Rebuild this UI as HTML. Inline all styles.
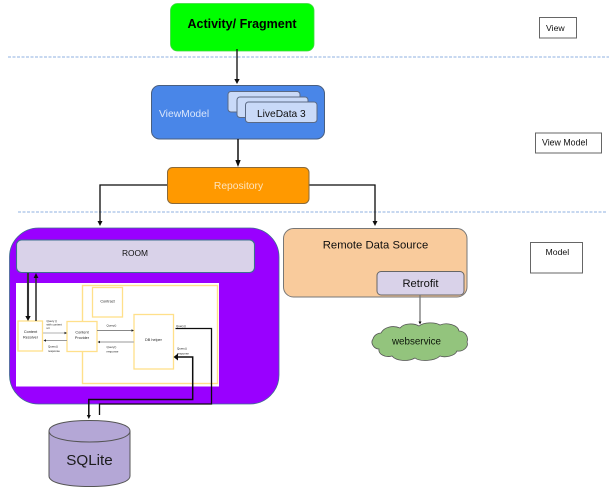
<!DOCTYPE html>
<html>
<head>
<meta charset="utf-8">
<style>
html,body{margin:0;padding:0;background:#fff;}
svg{display:block;}
text{font-family:"Liberation Sans",sans-serif;}
</style>
</head>
<body>
<svg width="609" height="488" viewBox="0 0 609 488" xmlns="http://www.w3.org/2000/svg">
<defs>
<filter id="b" x="-5%" y="-5%" width="110%" height="110%"><feGaussianBlur stdDeviation="0.36"/></filter>
</defs>
<rect width="609" height="488" fill="#fff"/>
<g filter="url(#b)">
<!-- dashed lines -->
<line x1="8" y1="57" x2="609" y2="57" stroke="#8fb0e0" stroke-width="1.1" stroke-dasharray="3 1.5"/>
<line x1="18" y1="212" x2="607" y2="212" stroke="#8fb0e0" stroke-width="1.1" stroke-dasharray="3 1.5"/>

<!-- Activity -->
<rect x="170.5" y="3.5" width="143.5" height="47.5" rx="7" fill="#00ff00" stroke="#3fd93f" stroke-width="0.8"/>
<text x="242" y="28" font-size="12.5" font-weight="bold" text-anchor="middle" fill="#000">Activity/ Fragment</text>
<line x1="237" y1="49" x2="237" y2="80" stroke="#111" stroke-width="1.3"/>
<polygon points="234.3,79 239.7,79 237,84" fill="#111"/>

<!-- ViewModel -->
<rect x="151.5" y="85.5" width="173" height="53.5" rx="8" fill="#4a86e8" stroke="#4a5f80" stroke-width="1"/>
<text x="159" y="117" font-size="10.3" fill="#dbe7fb">ViewModel</text>
<rect x="228" y="91.5" width="72" height="20.5" rx="3" fill="#c9daf8" stroke="#5a6a85" stroke-width="1"/>
<rect x="237" y="97" width="71" height="20.5" rx="3" fill="#c9daf8" stroke="#5a6a85" stroke-width="1"/>
<rect x="245.5" y="102" width="71.5" height="20.5" rx="3" fill="#c9daf8" stroke="#5a6a85" stroke-width="1"/>
<text x="257" y="117" font-size="10.2" fill="#111">LiveData 3</text>
<line x1="238" y1="139" x2="238" y2="162" stroke="#111" stroke-width="1.5"/>
<polygon points="235.3,160 240.7,160 238,167" fill="#111"/>

<!-- Repository -->
<polyline points="167,185 100,185 100,222" fill="none" stroke="#111" stroke-width="1.3"/>
<polygon points="97.5,221 102.5,221 100,226" fill="#111"/>
<polyline points="309,185 375,185 375,222" fill="none" stroke="#111" stroke-width="1.3"/>
<polygon points="372.5,221 377.5,221 375,226" fill="#111"/>
<rect x="167.5" y="167.5" width="141.5" height="36" rx="5" fill="#ff9900" stroke="#8a6a3a" stroke-width="1"/>
<text x="238.5" y="189" font-size="10.3" text-anchor="middle" fill="#fde3bd">Repository</text>

<!-- Model purple -->
<rect x="9.5" y="228" width="269.5" height="176" rx="29" fill="#9900ff" stroke="#3d6f8f" stroke-width="0.8"/>
<rect x="16.5" y="240" width="238" height="32.5" rx="5" fill="#d9d2e9" stroke="#3d6f8f" stroke-width="1.1"/>
<text x="135" y="256" font-size="8.4" text-anchor="middle" fill="#111">ROOM</text>

<rect x="16" y="283" width="203" height="103.5" fill="#fff"/>
<rect x="82.5" y="285.5" width="135" height="98" fill="#fff" stroke="#ffe08a" stroke-width="1.4"/>
<rect x="92.5" y="287.5" width="30" height="29.5" fill="#fff" stroke="#ffe08a" stroke-width="1.3"/>
<rect x="18" y="321" width="24.5" height="30" fill="#fff" stroke="#ffe08a" stroke-width="1.3"/>
<rect x="67" y="321.5" width="30" height="30" fill="#fff" stroke="#ffe08a" stroke-width="1.3"/>
<rect x="134" y="314.5" width="39.5" height="54.5" fill="#fff" stroke="#ffe08a" stroke-width="1.3"/>

<text x="107.5" y="302.5" font-size="3.8" text-anchor="middle" fill="#222">Contract</text>
<text x="30.5" y="333" font-size="3.8" text-anchor="middle" fill="#222">Content</text>
<text x="30.5" y="338.5" font-size="3.8" text-anchor="middle" fill="#222">Resolver</text>
<text x="82" y="333.5" font-size="3.8" text-anchor="middle" fill="#222">Content</text>
<text x="82" y="339" font-size="3.8" text-anchor="middle" fill="#222">Provider</text>
<text x="153.5" y="341" font-size="3.8" text-anchor="middle" fill="#222">DB helper</text>

<text x="46.5" y="322" font-size="2.9" fill="#222">Query ()</text>
<text x="46.5" y="325.5" font-size="2.9" fill="#222">with content</text>
<text x="46.5" y="329" font-size="2.9" fill="#222">uri</text>
<text x="48" y="347.5" font-size="2.9" fill="#222">Query()</text>
<text x="48" y="352" font-size="2.9" fill="#222">response</text>
<text x="106.5" y="326.5" font-size="2.9" fill="#222">Query()</text>
<text x="106.5" y="348" font-size="2.9" fill="#222">Query()</text>
<text x="106.5" y="352.5" font-size="2.9" fill="#222">response</text>
<text x="176" y="327" font-size="2.9" fill="#222">Query()</text>
<text x="177" y="349.5" font-size="2.9" fill="#222">Query()</text>
<text x="177" y="354.5" font-size="2.9" fill="#222">response</text>

<line x1="43" y1="333" x2="65" y2="333" stroke="#ccc" stroke-width="1.4"/>
<polygon points="64.5,331.8 64.5,334.2 67,333" fill="#222"/>
<line x1="46" y1="340.5" x2="67" y2="340.5" stroke="#999" stroke-width="0.9"/>
<polygon points="46,339.2 46,341.8 43.5,340.5" fill="#222"/>
<line x1="97" y1="330.5" x2="132" y2="330.5" stroke="#888" stroke-width="0.9"/>
<polygon points="131.5,329.3 131.5,331.7 134,330.5" fill="#222"/>
<line x1="100" y1="342" x2="134" y2="342" stroke="#bbb" stroke-width="1.6"/>
<polygon points="100,340.7 100,343.3 97.5,342" fill="#222"/>

<!-- Room to resolver arrows -->
<line x1="28" y1="273" x2="28" y2="317" stroke="#333" stroke-width="2.1"/>
<polygon points="25.3,316 30.7,316 28,321" fill="#111"/>
<line x1="36" y1="277" x2="36" y2="321" stroke="#333" stroke-width="1.6"/>
<polygon points="33.6,278 38.4,278 36,273" fill="#111"/>

<!-- DB helper to SQLite -->
<polyline points="175.5,328.5 211.5,328.5 211.5,404 99.5,404 99.5,415" fill="none" stroke="#111" stroke-width="1.3"/>
<polyline points="178,357 192.7,357 192.7,399.5 88.8,399.5 88.8,415" fill="none" stroke="#111" stroke-width="1.5"/>
<polygon points="178,353.5 178,360.5 173.5,357" fill="#111"/>
<polygon points="86.8,415 90.8,415 88.8,419" fill="#111"/>

<!-- Remote Data Source -->
<rect x="283.5" y="228.5" width="183.5" height="68.5" rx="10" fill="#f9cb9c" stroke="#777" stroke-width="1"/>
<text x="375.5" y="248.5" font-size="11.3" text-anchor="middle" fill="#111">Remote Data Source</text>
<rect x="377" y="271.5" width="87" height="23.5" rx="4" fill="#d9d2e9" stroke="#666" stroke-width="1"/>
<text x="420.5" y="287" font-size="11.2" text-anchor="middle" fill="#111">Retrofit</text>
<line x1="420" y1="295" x2="420" y2="322" stroke="#777" stroke-width="1.3"/>
<polygon points="418.5,321.5 421.5,321.5 420,324.5" fill="#111"/>

<!-- cloud -->
<path d="M381,333 C384,327 393,325 400,328 C404,323 414,323 419,326 C424,322 435,322 440,325 C447,322 458,325 459,331 C465,331 469,337 467,342 C469,347 463,352 457,351 C455,356 445,358 440,356 C435,361 420,362 415,358 C408,362 396,361 392,356 C385,358 378,354 379,349 C374,349 370,343 373,339 C374,335 378,333 381,333 Z" fill="#93c47d" stroke="#555" stroke-width="0.8"/>
<text x="416.5" y="344.5" font-size="9.8" text-anchor="middle" fill="#0c1608">webservice</text>

<!-- legend boxes -->
<rect x="539.5" y="17.5" width="37" height="20.5" fill="#fff" stroke="#666" stroke-width="1"/>
<text x="546" y="31" font-size="8.7" fill="#111">View</text>
<rect x="535.5" y="133" width="66" height="20" fill="#fff" stroke="#666" stroke-width="1"/>
<text x="542" y="145.5" font-size="8.8" fill="#111">View Model</text>
<rect x="530.5" y="242.5" width="52" height="30.5" fill="#fff" stroke="#666" stroke-width="1"/>
<text x="545.5" y="255" font-size="8.7" fill="#111">Model</text>

<!-- SQLite -->
<path d="M49,431 C49,424 67,420.5 89.5,420.5 C112,420.5 130,424 130,431 L130,476 C130,483 112,486.5 89.5,486.5 C67,486.5 49,483 49,476 Z" fill="#b4a7d6" stroke="#555" stroke-width="1"/>
<path d="M49,431 C49,438 67,442 89.5,442 C112,442 130,438 130,431" fill="none" stroke="#555" stroke-width="1"/>
<text x="89.5" y="465" font-size="15.2" text-anchor="middle" fill="#1c1c1c">SQLite</text>
</g>
</svg>
</body>
</html>
